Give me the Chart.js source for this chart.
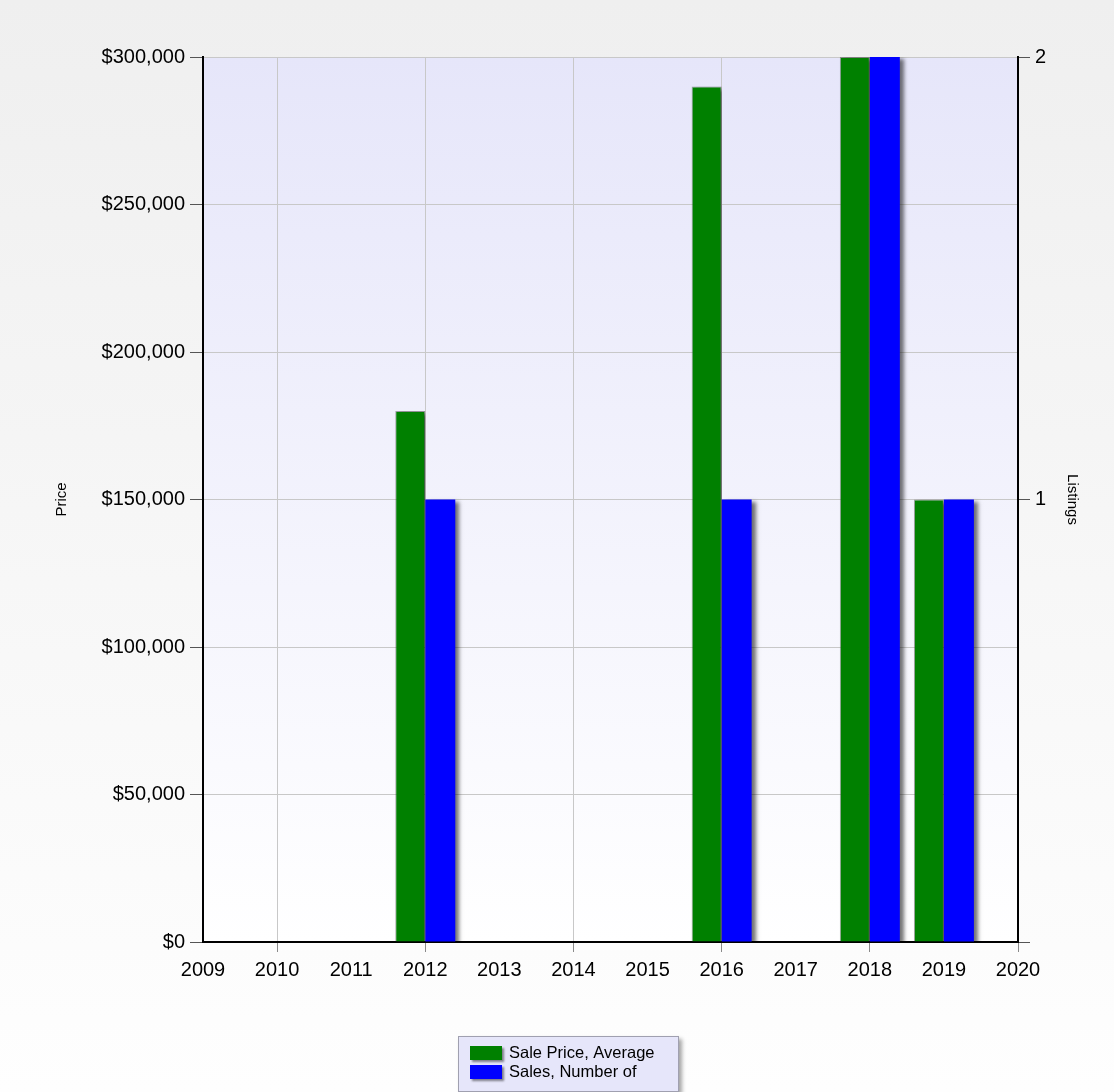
<!DOCTYPE html>
<html>
<head>
<meta charset="utf-8">
<title>Sale Price and Sales</title>
<script src="https://cdn.jsdelivr.net/npm/chart.js@4.4.1/dist/chart.umd.min.js"></script>
<style>
    html, body {
        margin: 0;
        padding: 0;
        width: 1114px;
        height: 1092px;
        overflow: hidden;
        background: linear-gradient(to bottom, #efefef 0%, #fefefe 100%);
    }
    #wrap {
        position: relative;
        width: 1114px;
        height: 1092px;
    }
</style>
</head>
<body>
<div id="wrap"><canvas id="salesChart"></canvas></div>
<script>
const years = ['2009', '2010', '2011', '2012', '2013', '2014', '2015', '2016', '2017', '2018', '2019', '2020'];
const salePriceAvg = [null, null, null, 180000, null, null, null, 290000, null, 300000, 150000, null];
const salesNumber = [null, null, null, 1, null, null, null, 1, null, 2, 1, null];
const seriesNames = ['Sale Price, Average', 'Sales, Number of'];
const seriesColors = ['#008000', '#0000ff'];

const FONT = "'Liberation Sans', Arial, sans-serif";

// plot area gradient behind the bars
const plotBackground = {
    id: 'plotBackground',
    beforeDraw(chart) {
        const {ctx, chartArea: a} = chart;
        const g = ctx.createLinearGradient(0, a.top, 0, a.bottom);
        g.addColorStop(0, '#e6e6fa');
        g.addColorStop(1, '#ffffff');
        ctx.save();
        ctx.fillStyle = g;
        ctx.fillRect(a.left, a.top, a.right - a.left, a.bottom - a.top);
        ctx.restore();
    }
};

// drop shadow on the bars
const barShadow = {
    id: 'barShadow',
    beforeDatasetsDraw(chart) {
        const ctx = chart.ctx;
        ctx.save();
        ctx.shadowColor = 'rgba(0, 0, 0, 0.55)';
        ctx.shadowBlur = 4;
        ctx.shadowOffsetX = 4;
        ctx.shadowOffsetY = 2;
    },
    afterDatasetsDraw(chart) {
        chart.ctx.restore();
    }
};

// boxed legend under the chart, items stacked
const boxLegend = {
    id: 'boxLegend',
    afterDraw(chart) {
        const ctx = chart.ctx;
        const x = 458, y = 1036, w = 221, h = 56;
        ctx.save();
        ctx.shadowColor = 'rgba(0, 0, 0, 0.35)';
        ctx.shadowBlur = 4;
        ctx.shadowOffsetX = 3;
        ctx.shadowOffsetY = 3;
        ctx.fillStyle = '#e6e6fa';
        ctx.fillRect(x, y, w, h);
        ctx.restore();

        ctx.save();
        ctx.strokeStyle = '#a0a0b0';
        ctx.lineWidth = 1;
        ctx.strokeRect(x + 0.5, y + 0.5, w - 1, h - 1);
        ctx.font = '16.5px ' + FONT;
        ctx.textBaseline = 'middle';
        chart.data.datasets.forEach((ds, i) => {
            const iy = y + 10 + i * 19;
            ctx.save();
            ctx.shadowColor = 'rgba(0, 0, 0, 0.45)';
            ctx.shadowBlur = 2;
            ctx.shadowOffsetX = 2;
            ctx.shadowOffsetY = 2;
            ctx.fillStyle = ds.backgroundColor;
            ctx.fillRect(x + 12, iy, 32, 14);
            ctx.restore();
            ctx.fillStyle = '#000';
            ctx.fillText(ds.label, x + 51, iy + 7);
        });
        ctx.restore();
    }
};

const ctx = document.getElementById('salesChart').getContext('2d');
const chart = new Chart(ctx, {
    type: 'bar',
    data: {
        labels: years,
        datasets: [{
            label: seriesNames[0],
            data: salePriceAvg,
            backgroundColor: seriesColors[0],
            borderColor: 'rgba(80, 80, 80, 0.5)',
            borderWidth: 1,
            yAxisID: 'y'
        }, {
            label: seriesNames[1],
            data: salesNumber,
            backgroundColor: seriesColors[1],
            borderWidth: 0,
            yAxisID: 'y1'
        }]
    },
    options: {
        responsive: true,
        maintainAspectRatio: false,
        animation: false,
        categoryPercentage: 0.81,
        barPercentage: 1.0,
        layout: {
            padding: { left: 49, right: 29, top: 57, bottom: 110 }
        },
        plugins: {
            legend: { display: false },
            tooltip: { enabled: false }
        },
        scales: {
            x: {
                offset: false,
                afterFit(scale) { scale.height = 40; },
                grid: {
                    offset: false,
                    tickLength: 10,
                    color: c => (parseInt(years[c.index], 10) % 2 === 0 ? '#c8c8c8' : 'rgba(0,0,0,0)'),
                    tickColor: c => (parseInt(years[c.index], 10) % 2 === 0 ? '#8a8a8a' : 'rgba(0,0,0,0)')
                },
                border: { color: '#000', width: 2 },
                ticks: {
                    autoSkip: false,
                    maxRotation: 0,
                    padding: 6,
                    color: '#000',
                    font: { family: FONT, size: 20 }
                }
            },
            y: {
                position: 'left',
                min: 0,
                max: 300000,
                afterFit(scale) { scale.width = 154; },
                grid: {
                    color: '#c8c8c8',
                    tickLength: 13,
                    tickColor: '#555'
                },
                border: { color: '#000', width: 2 },
                ticks: {
                    stepSize: 50000,
                    padding: 5,
                    color: '#000',
                    font: { family: FONT, size: 20 },
                    callback: v => '$' + Number(v).toLocaleString('en-US')
                },
                title: {
                    display: true,
                    text: 'Price',
                    color: '#000',
                    font: { family: FONT, size: 15 }
                }
            },
            y1: {
                position: 'right',
                min: 0,
                max: 2,
                afterFit(scale) { scale.width = 67; },
                grid: {
                    drawOnChartArea: false,
                    tickLength: 12,
                    tickColor: '#555'
                },
                border: { color: '#000', width: 2 },
                ticks: {
                    stepSize: 1,
                    padding: 5,
                    color: '#000',
                    font: { family: FONT, size: 20 },
                    callback: v => (v === 0 ? '' : v)
                },
                title: {
                    display: true,
                    text: 'Listings',
                    color: '#000',
                    font: { family: FONT, size: 15 }
                }
            }
        }
    },
    plugins: [plotBackground, barShadow, boxLegend]
});
</script>
</body>
</html>
